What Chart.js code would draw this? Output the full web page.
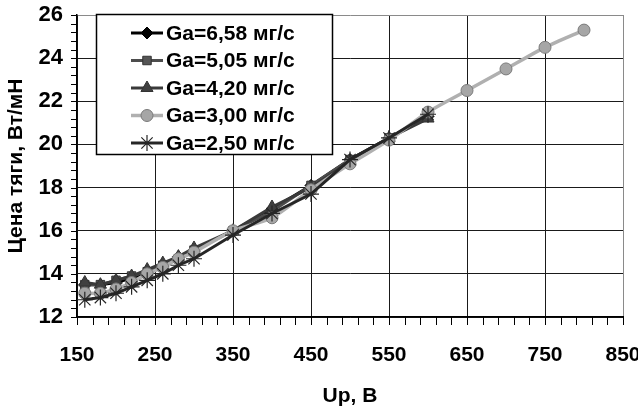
<!DOCTYPE html>
<html>
<head>
<meta charset="utf-8">
<script src="https://cdn.jsdelivr.net/npm/chart.js@4.4.1/dist/chart.umd.min.js"></script>
<style>
  body { margin: 0; background: #fff; }
</style>
</head>
<body>
<canvas id="myChart" width="638" height="411"></canvas>
<script>
// data
const upV = [160, 180, 200, 220, 240, 260, 280, 300, 350, 400, 450, 500, 550, 600];
const upV3 = [160, 180, 200, 220, 240, 260, 280, 300, 350, 400, 450, 500, 550, 600, 650, 700, 750, 800];
const ga658 = [13.5, 13.5, 13.6, 13.8, 14.1, 14.4, 14.8, 15.1, 16.0, 17.0, 18.1, 19.3, 20.3, 21.3];
const ga505 = [13.5, 13.5, 13.7, 13.9, 14.1, 14.4, 14.7, 15.1, 16.0, 16.9, 18.1, 19.3, 20.3, 21.3];
const ga420 = [13.6, 13.5, 13.7, 13.9, 14.2, 14.5, 14.8, 15.2, 16.0, 17.1, 18.0, 19.2, 20.3, 21.2];
const ga300 = [13.1, 13.1, 13.3, 13.6, 14.0, 14.3, 14.7, 15.0, 16.0, 16.6, 17.9, 19.1, 20.2, 21.5, 22.5, 23.5, 24.5, 25.3];
const ga250 = [12.8, 12.9, 13.1, 13.4, 13.7, 14.0, 14.4, 14.7, 15.8, 16.8, 17.7, 19.3, 20.3, 21.4];
const seriesNames = ['Ga=6,58 мг/с', 'Ga=5,05 мг/с', 'Ga=4,20 мг/с', 'Ga=3,00 мг/с', 'Ga=2,50 мг/с'];
const xTitle = 'Up, B';
const yTitle = 'Цена тяги, Вт/мН';

const tickFont = "'Liberation Sans', Arial, sans-serif";
const textFont = "'Liberation Sans', Arial, sans-serif";

function pts(xs, ys) {
  return ys.map((y, i) => ({ x: xs[i], y: y }));
}

const isEvenInt = v => Math.abs(v - Math.round(v)) < 1e-6 && Math.round(v) % 2 === 0;
const isMajorX = v => (Math.round(v) - 150) % 100 === 0 && Math.abs(v - Math.round(v)) < 1e-6;

// small outside tick marks on every tick of both axes
const minorTicks = {
  id: 'minorTicks',
  afterDraw(chart) {
    const ctx = chart.ctx;
    const xs = chart.scales.x, ys = chart.scales.y;
    const area = chart.chartArea;
    ctx.save();
    ctx.strokeStyle = '#000';
    ctx.lineWidth = 1;
    ctx.beginPath();
    xs.ticks.forEach(t => {
      const px = Math.round(xs.getPixelForValue(t.value)) + 0.5;
      ctx.moveTo(px, area.bottom);
      ctx.lineTo(px, area.bottom + 8);
    });
    ys.ticks.forEach(t => {
      const py = Math.round(ys.getPixelForValue(t.value)) + 0.5;
      ctx.moveTo(area.left, py);
      ctx.lineTo(area.left - 6, py);
    });
    ctx.stroke();
    ctx.restore();
  }
};

// legend drawn inside the plot, like the original
const legendBox = {
  id: 'legendBox',
  afterDatasetsDraw(chart) {
    const ctx = chart.ctx;
    ctx.save();
    ctx.fillStyle = '#fff';
    ctx.fillRect(96, 14, 236, 140);
    ctx.strokeStyle = '#000';
    ctx.lineWidth = 1.5;
    ctx.strokeRect(96.5, 14.5, 236, 140);
    chart.data.datasets.forEach((ds, i) => {
      const y = 33 + i * 27.5;
      ctx.strokeStyle = ds.borderColor;
      ctx.lineWidth = ds.borderWidth;
      ctx.beginPath();
      ctx.moveTo(131, y);
      ctx.lineTo(163, y);
      ctx.stroke();
      ctx.fillStyle = ds.pointBackgroundColor;
      ctx.strokeStyle = ds.pointBorderColor;
      ctx.lineWidth = ds.pointBorderWidth;
      Chart.helpers.drawPoint(ctx, {
        pointStyle: ds.pointStyle,
        radius: ds.pointRadius,
        borderWidth: ds.pointBorderWidth,
        rotation: 0
      }, 147, y);
      ctx.fillStyle = '#000';
      ctx.font = "bold 21px " + textFont;
      ctx.textBaseline = 'middle';
      ctx.textAlign = 'left';
      ctx.fillText(ds.label, 166, y + 1);
    });
    ctx.restore();
  }
};

const ctx1 = document.getElementById('myChart').getContext('2d');
new Chart(ctx1, {
  type: 'line',
  data: {
    datasets: [
      {
        label: seriesNames[0], data: pts(upV, ga658), order: 4,
        borderColor: '#000', borderWidth: 3,
        pointStyle: 'rectRot', pointRadius: 6,
        pointBackgroundColor: '#000', pointBorderColor: '#000', pointBorderWidth: 1
      },
      {
        label: seriesNames[1], data: pts(upV, ga505), order: 3,
        borderColor: '#4d4d4d', borderWidth: 3,
        pointStyle: 'rect', pointRadius: 6,
        pointBackgroundColor: '#555', pointBorderColor: '#333', pointBorderWidth: 1
      },
      {
        label: seriesNames[2], data: pts(upV, ga420), order: 2,
        borderColor: '#3a3a3a', borderWidth: 3,
        pointStyle: 'triangle', pointRadius: 7,
        pointBackgroundColor: '#404040', pointBorderColor: '#333', pointBorderWidth: 1
      },
      {
        label: seriesNames[3], data: pts(upV3, ga300), order: 1,
        borderColor: '#b0b0b0', borderWidth: 3.5, tension: 0.25,
        pointStyle: 'circle', pointRadius: 6,
        pointBackgroundColor: '#a6a6a6', pointBorderColor: '#7a7a7a', pointBorderWidth: 1
      },
      {
        label: seriesNames[4], data: pts(upV, ga250), order: 0,
        borderColor: '#262626', borderWidth: 3,
        pointStyle: 'star', pointRadius: 8,
        pointBackgroundColor: '#262626', pointBorderColor: '#262626', pointBorderWidth: 1.2
      }
    ]
  },
  options: {
    responsive: false,
    animation: false,
    layout: { padding: { top: 15, right: 15, left: 0, bottom: 0 } },
    plugins: {
      legend: { display: false },
      tooltip: { enabled: false }
    },
    scales: {
      x: {
        type: 'linear', min: 150, max: 850,
        ticks: {
          stepSize: 20, autoSkip: false, maxRotation: 0, padding: 26,
          color: '#000', font: { family: tickFont, size: 21, weight: 'bold' },
          callback: v => isMajorX(v) ? String(Math.round(v)) : ''
        },
        grid: {
          color: c => {
            const v = c.tick ? c.tick.value : 0;
            if (Math.abs(v - 850) < 1e-6) return '#8a8a8a';
            return isMajorX(v) ? '#1a1a1a' : 'rgba(0,0,0,0)';
          },
          drawTicks: false, lineWidth: 1
        },
        border: { color: '#000', width: 1.5 },
        title: {
          display: true, text: xTitle, color: '#000',
          font: { family: textFont, size: 21, weight: 'bold' },
          padding: { top: 0, bottom: 2 }
        },
        afterFit: s => { s.height = 94; s.paddingLeft = 0; s.paddingRight = 0; }
      },
      y: {
        type: 'linear', min: 12, max: 26,
        ticks: {
          stepSize: 0.4, autoSkip: false, padding: 14,
          color: '#000', font: { family: tickFont, size: 22, weight: 'bold' },
          callback: v => isEvenInt(v) ? String(Math.round(v)) : ''
        },
        grid: {
          color: c => {
            const v = c.tick ? c.tick.value : 0;
            if (Math.abs(v - 26) < 1e-6) return '#8a8a8a';
            return isEvenInt(v) ? '#1a1a1a' : 'rgba(0,0,0,0)';
          },
          drawTicks: false, lineWidth: 1
        },
        border: { color: '#000', width: 1.5 },
        title: {
          display: true, text: yTitle, color: '#000',
          font: { family: textFont, size: 21, weight: 'bold' },
          padding: { top: 4, bottom: 4 }
        },
        afterFit: s => { s.width = 77; s.paddingTop = 0; s.paddingBottom = 0; }
      }
    }
  },
  plugins: [legendBox, minorTicks]
});
</script>
</body>
</html>
